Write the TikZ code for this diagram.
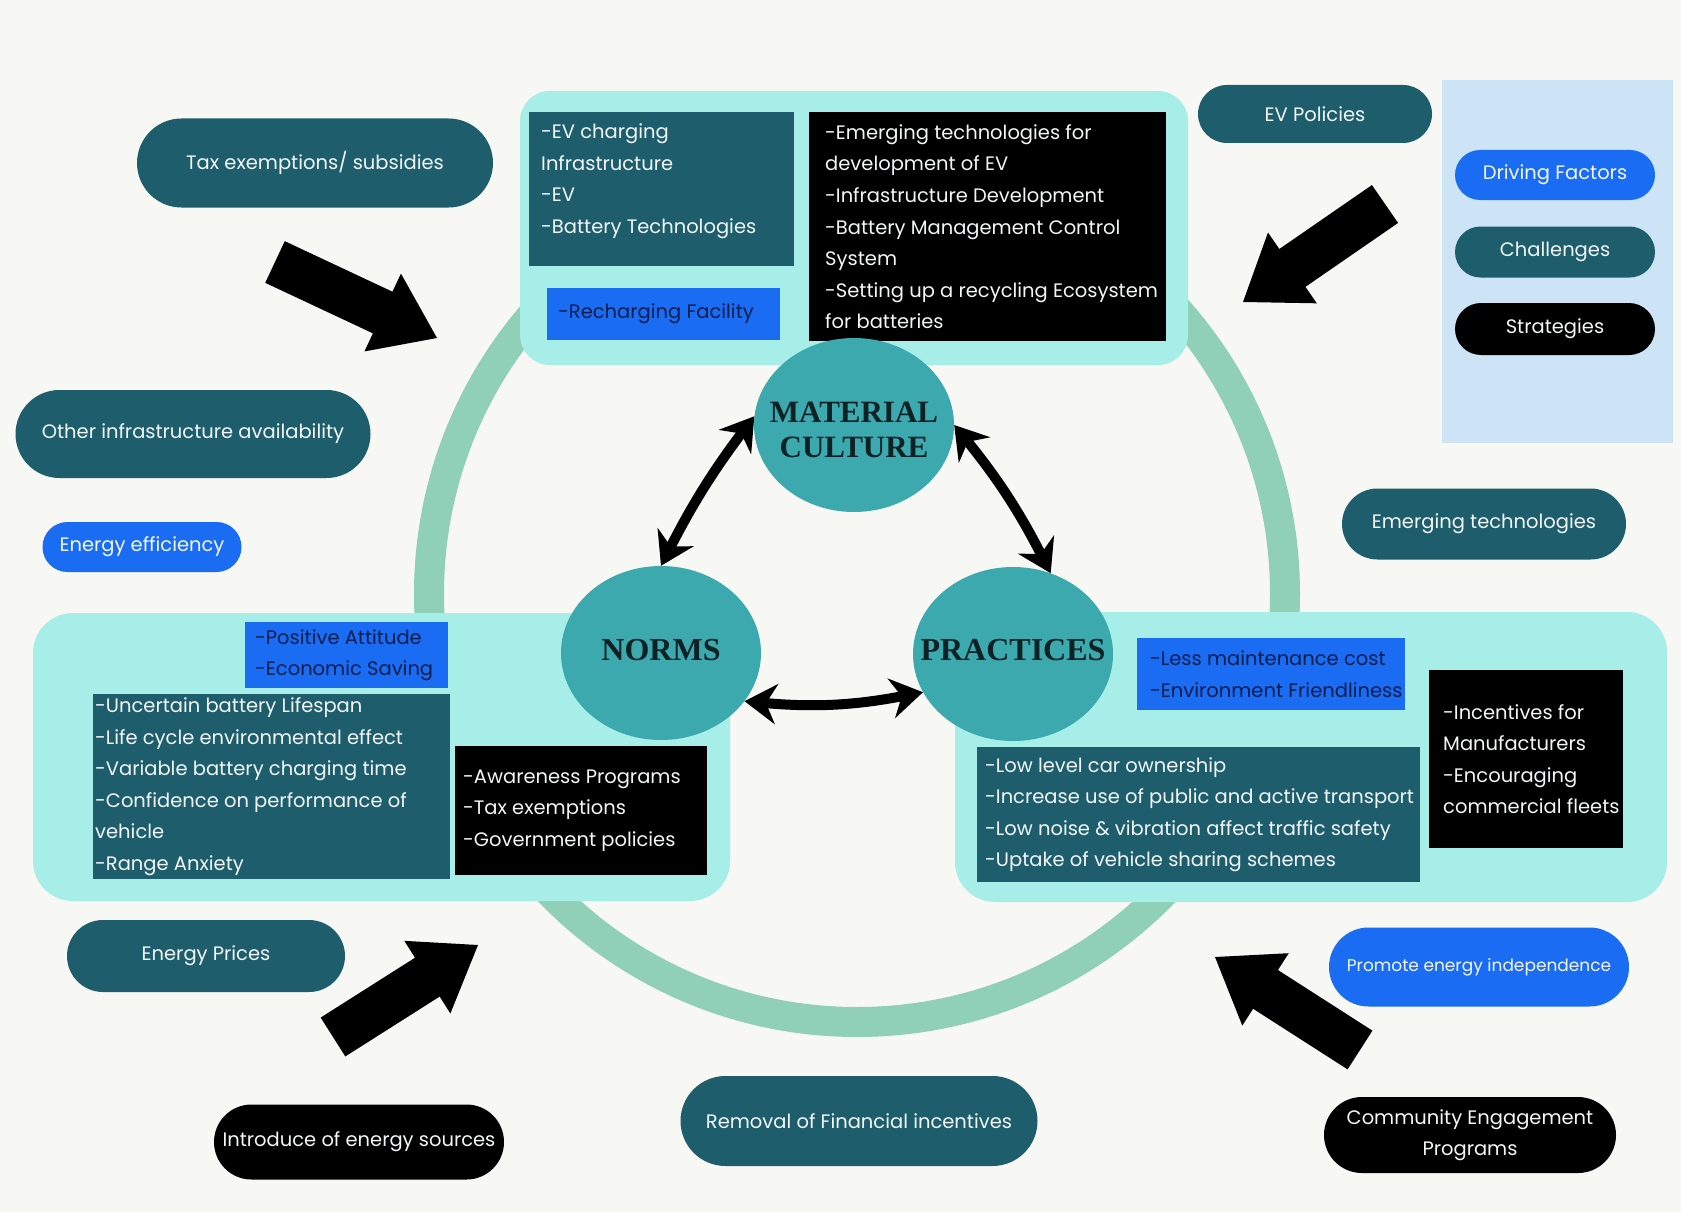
\documentclass[tikz,border=0pt]{standalone}
\usepackage{fontspec}
\setmainfont{Poppins}
\newfontfamily\circserif{Liberation Serif}
\usetikzlibrary{shapes.geometric,shapes.misc,arrows.meta,calc}
\definecolor{bg}{HTML}{F7F7F3}
\definecolor{ringc}{HTML}{8FD0B6}
\definecolor{panelc}{HTML}{A6EEE7}
\definecolor{tealbox}{HTML}{1E5E6C}
\definecolor{circc}{HTML}{3BA9AE}
\definecolor{bluebox}{HTML}{1A6CF2}
\definecolor{navy}{HTML}{0C1E4E}
\definecolor{legendc}{HTML}{CDE4F7}
\definecolor{txtw}{HTML}{F2F6F6}
\definecolor{circtext}{HTML}{0E2226}
\newcommand\myboxfont{\fontsize{19.5}{31.6}\selectfont}
\newcommand\mycircfont{\circserif\bfseries\fontsize{32}{28}\selectfont}
\newcommand\mymcfont{\circserif\bfseries\fontsize{31}{28}\selectfont}
\newcommand\myfatarrow[2]{%
  \coordinate (#1hb) at ($(#2)!60pt!(#1)$);
  \fill[black] ($(#1)!23pt!90:(#2)$) -- ($(#1hb)!23pt!90:(#2)$) -- ($(#1hb)!43pt!90:(#2)$) -- (#2)
    -- ($(#1hb)!43pt!-90:(#2)$) -- ($(#1hb)!23pt!-90:(#2)$) -- ($(#1)!23pt!-90:(#2)$) -- cycle;
}
\begin{document}
\begin{tikzpicture}[x=1pt,y=1pt,
  every node/.style={inner sep=0pt},
  bx/.style={anchor=north west, inner sep=0pt},
  tx/.style={anchor=west, align=left, font=\myboxfont, text=txtw},
  ntx/.style={tx, text=navy},
  pill/.style={rounded rectangle, font=\myboxfont, text=txtw, align=center},
  circnode/.style={ellipse, fill=circc, minimum width=200pt, minimum height=174pt},
  circtxt/.style={font=\mycircfont, text=circtext, align=center},
  dbl/.style={line width=10pt, black, {Stealth[length=32pt,width=40pt]}-{Stealth[length=32pt,width=40pt]}},
]
\fill[bg] (0,0) rectangle (1681,-1212);
\useasboundingbox (0,0) rectangle (1681,-1212);

% ring
\draw[ringc, line width=30pt] (857,-594) circle[radius=428];

% panels
\fill[panelc, rounded corners=30pt] (520,-91) rectangle (1188,-365);
\fill[panelc, rounded corners=40pt] (33,-613) rectangle (730,-901);
\fill[panelc, rounded corners=40pt] (955,-612) rectangle (1667,-902);

% top panel boxes
\node[bx, fill=tealbox, minimum width=265pt, minimum height=154pt] (tb1) at (529,-112) {};
\node[tx, yshift=8pt] (tb1t) at ([xshift=12pt]tb1.west) {-EV charging\\Infrastructure\\-EV\\-Battery Technologies};
\node[bx, fill=bluebox, minimum width=233pt, minimum height=52pt] (rb1) at (547,-288) {};
\node[ntx] (rb1t) at ([xshift=11pt]rb1.west) {-Recharging Facility};
\node[bx, fill=black, minimum width=357pt, minimum height=229pt] (bb1) at (809,-112) {};
\node[tx] (bb1t) at ([xshift=16pt]bb1.west) {-Emerging technologies for\\development of EV\\-Infrastructure Development\\-Battery Management Control\\System\\-Setting up a recycling Ecosystem\\for batteries};

% left panel boxes
\node[bx, fill=bluebox, minimum width=203pt, minimum height=66pt] (lb1) at (245,-622) {};
\node[ntx] (lb1t) at ([xshift=10pt]lb1.west) {-Positive Attitude\\-Economic Saving};
\node[bx, fill=tealbox, minimum width=357pt, minimum height=185pt] (lt1) at (93,-694) {};
\node[tx] (lt1t) at ([xshift=2pt]lt1.west) {-Uncertain battery Lifespan\\-Life cycle environmental effect\\-Variable battery charging time\\-Confidence on performance of\\vehicle\\-Range Anxiety};
\node[bx, fill=black, minimum width=252pt, minimum height=129pt] (lbk) at (455,-746) {};
\node[tx] (lbkt) at ([xshift=8pt]lbk.west) {-Awareness Programs\\-Tax exemptions\\-Government policies};

% right panel boxes
\node[bx, fill=bluebox, minimum width=268pt, minimum height=72pt] (rbl) at (1137,-638) {};
\node[ntx] (rblt) at ([xshift=13pt]rbl.west) {-Less maintenance cost\\-Environment Friendliness};
\node[bx, fill=tealbox, minimum width=443pt, minimum height=135pt] (rt) at (977,-747) {};
\node[tx] (rtt) at ([xshift=8pt]rt.west) {-Low level car ownership\\-Increase use of public and active transport\\-Low noise \& vibration affect traffic safety\\-Uptake of vehicle sharing schemes};
\node[bx, fill=black, minimum width=194pt, minimum height=178pt] (rbk) at (1429,-670) {};
\node[tx] (rbkt) at ([xshift=14pt]rbk.west) {-Incentives for\\Manufacturers\\-Encouraging\\commercial fleets};

% circles
\node[circnode] (mc) at (854,-425) {};
\node[circtxt, font=\mymcfont] (mct1) at (854,-412) {MATERIAL};
\node[circtxt, font=\mymcfont] (mct2) at (854,-447) {CULTURE};
\node[circnode] (norms) at (661,-653) {};
\node[circtxt] (normst) at (661,-650) {NORMS};
\node[circnode] (practices) at (1013,-654) {};
\node[circtxt] (practicest) at (1013,-650) {PRACTICES};

% double arrows
\draw[dbl] (norms.north) to[bend left=5] (mc.175);
\draw[dbl] (mc.east) to[bend left=6] (practices.65);
\draw[dbl] (norms.-30) to[bend right=8] (practices.203);

% fat arrows
\coordinate (a1t) at (275,-262); \coordinate (a1p) at (437,-338);
\coordinate (a2t) at (1385,-204); \coordinate (a2p) at (1243,-302);
\coordinate (a3t) at (333,-1037); \coordinate (a3p) at (478,-945);
\coordinate (a4t) at (1360,-1050); \coordinate (a4p) at (1215,-957);
\myfatarrow{a1t}{a1p}
\myfatarrow{a2t}{a2p}
\myfatarrow{a3t}{a3p}
\myfatarrow{a4t}{a4p}

% legend
\fill[legendc] (1442,-80) rectangle (1673,-443);
\node[pill, fill=bluebox, minimum width=200pt, minimum height=50pt] (driving) at (1555,-175) {Driving Factors};
\node[pill, fill=tealbox, minimum width=200pt, minimum height=51pt] (challenges) at (1555,-252) {Challenges};
\node[pill, fill=black, minimum width=200pt, minimum height=52pt] (strategies) at (1555,-329) {Strategies};

% outer pills
\node[pill, fill=tealbox, minimum width=356pt, minimum height=89pt] (tax) at (315,-163) {Tax exemptions/ subsidies};
\node[pill, fill=tealbox, minimum width=355pt, minimum height=88pt] (other) at (193,-434) {Other infrastructure availability};
\node[pill, fill=bluebox, minimum width=199pt, minimum height=50pt] (eneff) at (142,-547) {Energy efficiency};
\node[pill, fill=tealbox, minimum width=278pt, minimum height=72pt] (eprices) at (206,-956) {Energy Prices};
\node[pill, fill=black, minimum width=290pt, minimum height=75pt] (intro) at (359,-1142) {Introduce of energy sources};
\node[pill, fill=tealbox, minimum width=357pt, minimum height=90pt] (removal) at (859,-1121) {Removal of Financial incentives};
\node[pill, fill=black, minimum width=292pt, minimum height=76pt] (community) at (1470,-1135) {Community Engagement\\Programs};
\node[pill, fill=bluebox, minimum width=300pt, minimum height=79pt, font=\fontsize{17}{24}\selectfont] (promote) at (1479,-967) {Promote energy independence};
\node[pill, fill=tealbox, minimum width=234pt, minimum height=58pt] (evpol) at (1315,-114) {EV Policies};
\node[pill, fill=tealbox, minimum width=284pt, minimum height=71pt] (emerging) at (1484,-524) {Emerging technologies};
\end{tikzpicture}
\end{document}
